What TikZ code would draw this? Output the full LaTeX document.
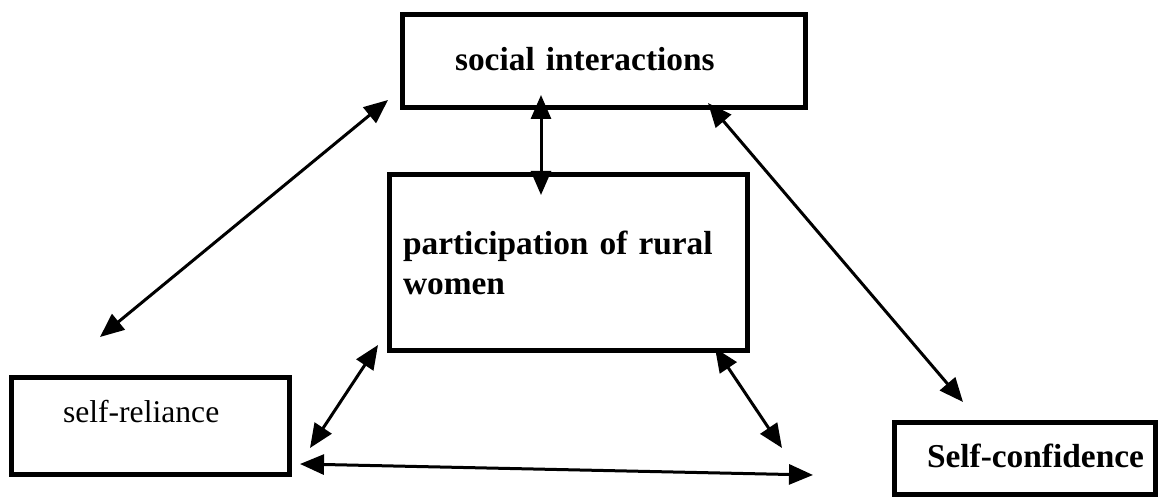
\documentclass[tikz,border=0pt]{standalone}
\usepackage{fontspec}
\setmainfont{Liberation Serif}
\usetikzlibrary{arrows.meta}

\tikzset{
    box/.style={draw, rectangle, line width=0.1cm, inner ysep=0pt, align=left,
        font=\fontsize{19}{22.8}\selectfont\bfseries},
    link/.style={>={Triangle[length=0.48cm,width=0.4cm]}, <->, line width=0.06cm}
}

\begin{document}
\begin{tikzpicture}[x=0.02cm, y=-0.02cm]
    \useasboundingbox (0,0) rectangle (1167,499);

    \node[box, inner xsep=1.05cm, text width=5.96cm, minimum height=1.86cm,
        text height=0.46cm, text depth=0.06cm] (social) at (604,61) {social interactions};
    \node[box, inner xsep=0.27cm, text width=6.62cm, minimum height=3.52cm]
        (participation) at (568.5,262.5) {participation of rural\\women};
    \node[box, inner xsep=1.03cm, text width=3.5cm, minimum height=1.94cm,
        text height=0.44cm, text depth=0.56cm, font=\fontsize{18}{21.6}\selectfont]
        (reliance) at (150.5,426) {self-reliance};
    \node[box, inner xsep=0.17cm, text width=4.88cm, minimum height=1.44cm,
        text height=0.46cm, text depth=0.08cm] (confidence) at (1025,458.5)
        {\hspace*{0.48cm}Self-confidence};

    \coordinate (soc1) at (388,100);
    \coordinate (rel1) at (100,337);
    \coordinate (soc2) at (541,95);
    \coordinate (par1) at (541,195);
    \coordinate (soc3) at (708,103);
    \coordinate (conf1) at (963,402);
    \coordinate (par2) at (378,345);
    \coordinate (rel2) at (310,448);
    \coordinate (par3) at (715,348);
    \coordinate (mid1) at (782,448);
    \coordinate (rel3) at (300,464);
    \coordinate (mid2) at (813,475);

    \draw[link] (soc1) -- (rel1);
    \draw[link] (soc2) -- (par1);
    \draw[link] (soc3) -- (conf1);
    \draw[link] (par2) -- (rel2);
    \draw[link] (par3) -- (mid1);
    \draw[link] (rel3) -- (mid2);
\end{tikzpicture}
\end{document}
